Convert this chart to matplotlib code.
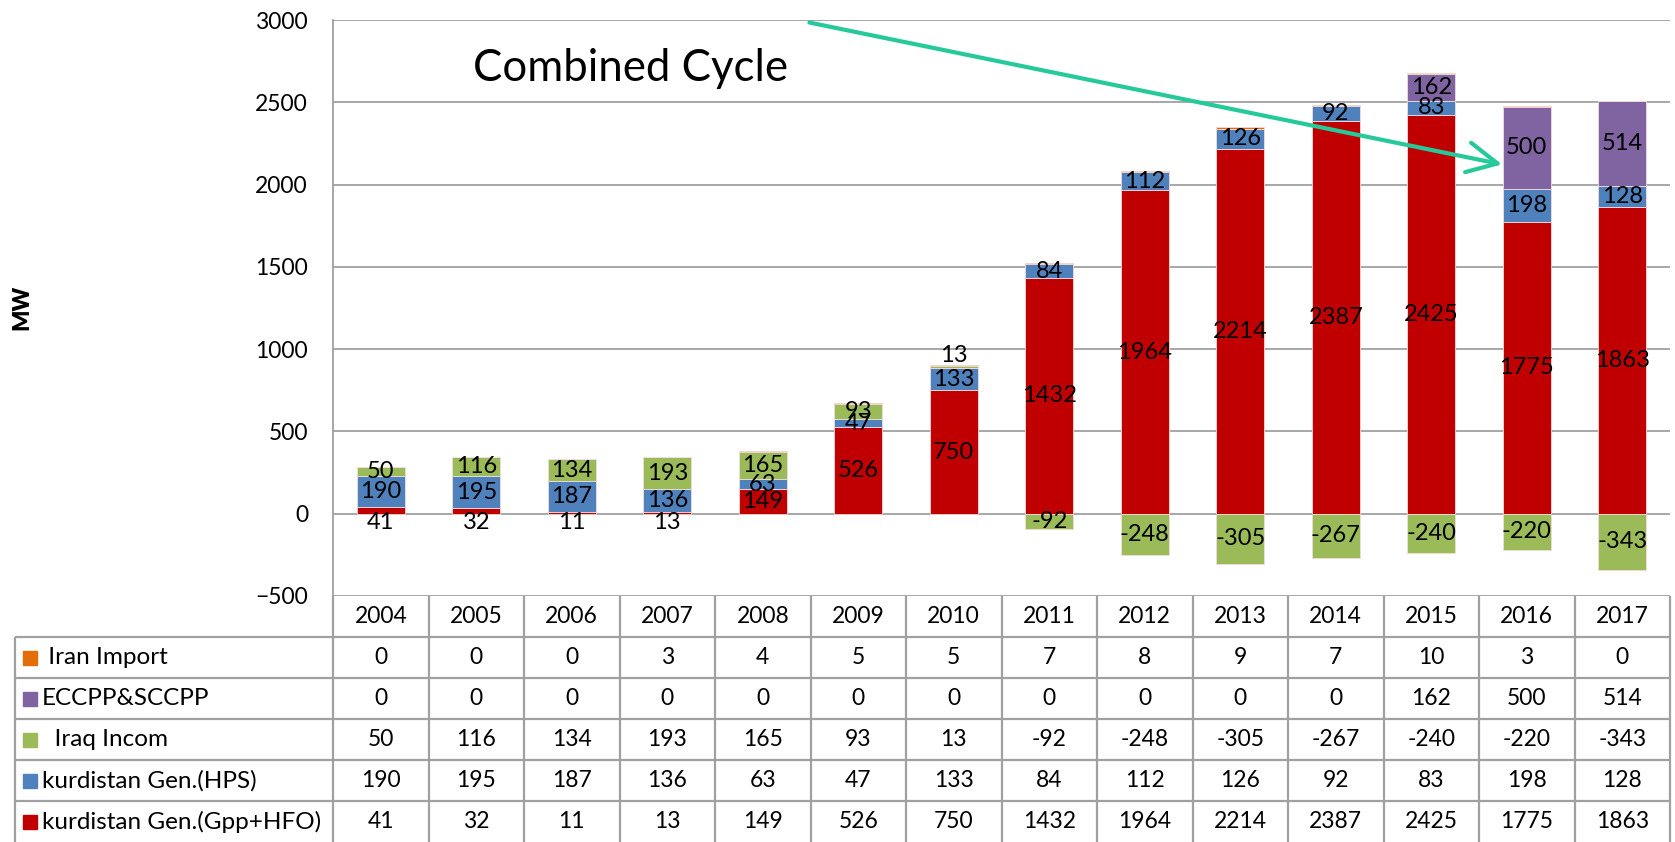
import matplotlib
matplotlib.use("Agg")
import matplotlib.pyplot as plt
import numpy as np

plt.rcParams['font.family'] = ['Lato', 'DejaVu Sans']

years = ['2004', '2005', '2006', '2007', '2008', '2009', '2010',
         '2011', '2012', '2013', '2014', '2015', '2016', '2017']
iran = [0, 0, 0, 3, 4, 5, 5, 7, 8, 9, 7, 10, 3, 0]
eccpp = [0, 0, 0, 0, 0, 0, 0, 0, 0, 0, 0, 162, 500, 514]
iraq = [50, 116, 134, 193, 165, 93, 13, -92, -248, -305, -267, -240, -220, -343]
hps = [190, 195, 187, 136, 63, 47, 133, 84, 112, 126, 92, 83, 198, 128]
gpp = [41, 32, 11, 13, 149, 526, 750, 1432, 1964, 2214, 2387, 2425, 1775, 1863]

names = ['kurdistan Gen.(Gpp+HFO)', 'kurdistan Gen.(HPS)', '  Iraq Incom',
         'ECCPP&SCCPP', ' Iran Import']
colors = ['#C00000', '#4F81BD', '#9BBB59', '#8064A2', '#E46C0A']
series = [gpp, hps, iraq, eccpp, iran]

W, H = 1675, 842
fig = plt.figure(figsize=(W / 100, H / 100), dpi=100)

# pixel layout of the plot area
left, right, top, bottom = 333, 1670, 20, 596
ax = fig.add_axes([left / W, 1 - bottom / H, (right - left) / W, (bottom - top) / H])
x = np.arange(len(years))
ax.set_xlim(-0.5, len(years) - 0.5)
ax.set_ylim(-500, 3000)
ax.set_yticks(range(-500, 3001, 500))
ax.tick_params(axis='y', length=0, labelsize=16.5, pad=18)
ax.set_xticks([])
ax.yaxis.grid(True, color='#A0A0A0', lw=1.3)
ax.set_axisbelow(True)
for s in ['top', 'right', 'bottom']:
    ax.spines[s].set_visible(False)
ax.spines['left'].set_color('#A0A0A0')
ax.spines['left'].set_linewidth(1.3)

pos_b = np.zeros(len(years))
neg_b = np.zeros(len(years))
for k, (vals, col) in enumerate(zip(series, colors)):
    v = np.array(vals, dtype=float)
    b = np.where(v >= 0, pos_b, neg_b)
    ax.bar(x, v, 0.5, bottom=b, color=col, edgecolor='#F2DCDB', linewidth=0.6, zorder=2)
    for i in range(len(years)):
        if v[i] == 0 or k == 4:
            continue
        yl = b[i] + v[i] / 2
        if k == 0 and v[i] < 50:
            yl = -55
        if k == 2 and 0 < v[i] < 20:
            yl = b[i] + v[i] + 65
        ax.text(x[i], yl, f'{int(v[i])}', ha='center', va='center', fontsize=17, zorder=3)
    pos_b = pos_b + np.where(v >= 0, v, 0)
    neg_b = neg_b + np.where(v < 0, v, 0)

ax.text(2.61, 2708, 'Combined Cycle', ha='center', va='center', fontsize=31.5)
ax.annotate('', xy=(11.77, 2119), xytext=(4.46, 2988),
            arrowprops=dict(arrowstyle='->,head_length=0.6,head_width=0.3',
                            color='#26C99A', lw=3, mutation_scale=36))

fig.text(22 / W, 1 - 307 / H, 'MW', rotation=90, ha='center', va='center',
         fontsize=16, fontweight='heavy')

# data table under the chart
tleft = 15
colw = (right - left) / len(years)
tx0 = -0.5 - (left - tleft) / colw
tab = fig.add_axes([tleft / W, 0, (right - tleft) / W, (H - bottom) / H])
tab.set_xlim(tx0, len(years) - 0.5)
tab.set_ylim(6, 0)
tab.axis('off')
lc = '#A0A0A0'
tab.vlines(np.arange(len(years) + 1) - 0.5, 0, 6, color=lc, lw=1.6, clip_on=False)
tab.vlines([tx0], 1, 6, color=lc, lw=1.6, clip_on=False)
tab.hlines([1, 2, 3, 4, 5], tx0, len(years) - 0.5, color=lc, lw=1.6, clip_on=False)
for i, yr in enumerate(years):
    tab.text(i, 0.5, yr, ha='center', va='center', fontsize=16.5)
rows = list(zip(names, colors, series))[::-1]
for r, (nm, col, vals) in enumerate(rows):
    yr_ = r + 1.5
    tab.plot([tx0 + 15 / colw], [yr_], 's', color=col, markersize=10, clip_on=False)
    tab.text(tx0 + 27 / colw, yr_, nm, ha='left', va='center', fontsize=17.5)
    for i, v in enumerate(vals):
        tab.text(i, yr_, str(v), ha='center', va='center', fontsize=16.5)

fig.savefig('out.png', dpi=100)
